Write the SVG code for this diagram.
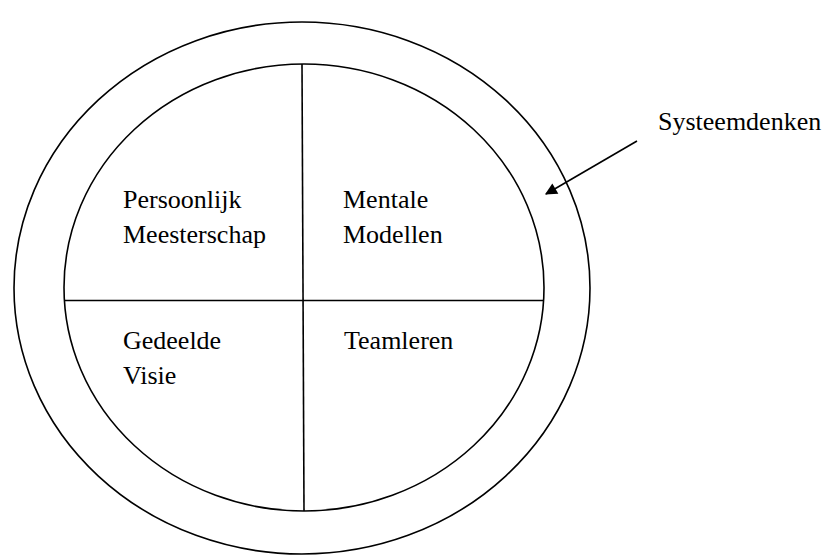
<svg xmlns="http://www.w3.org/2000/svg" width="829" height="556" viewBox="0 0 829 556">
<style>
.s{fill:none;stroke:#000;stroke-width:1.6}
.t{font-family:"Liberation Serif","Times New Roman",serif;font-size:26px;fill:#000}
</style>
<defs>
<marker id="ah" viewBox="0 0 10 10" refX="9" refY="5" markerWidth="18" markerHeight="12" markerUnits="userSpaceOnUse" orient="auto">
<path d="M0,0 L10,5 L0,10 Z" fill="#000"/>
</marker>
</defs>
<rect width="829" height="556" fill="#fff"/>
<g id="systeemdenken">
<ellipse class="s" cx="302" cy="288" rx="288" ry="266"/>
<text class="t" x="658" y="130">Systeemdenken</text>
</g>
<g id="inner">
<ellipse class="s" cx="304" cy="287.5" rx="240" ry="223.5"/>
</g>
<g id="connectors">
<line class="s" x1="302" y1="64" x2="304" y2="511"/>
<line class="s" x1="64" y1="300.5" x2="544" y2="300.5" stroke-width="2"/>
<line class="s" x1="637" y1="141" x2="546" y2="194" marker-end="url(#ah)"/>
</g>
<g id="persoonlijk">
<text class="t" x="123" y="208">Persoonlijk</text>
<text class="t" x="123" y="243">Meesterschap</text>
</g>
<g id="mentale">
<text class="t" x="343" y="208">Mentale</text>
<text class="t" x="343" y="243">Modellen</text>
</g>
<g id="gedeelde">
<text class="t" x="123" y="349">Gedeelde</text>
<text class="t" x="123" y="384">Visie</text>
</g>
<g id="teamleren">
<text class="t" x="344" y="349">Teamleren</text>
</g>
</svg>
